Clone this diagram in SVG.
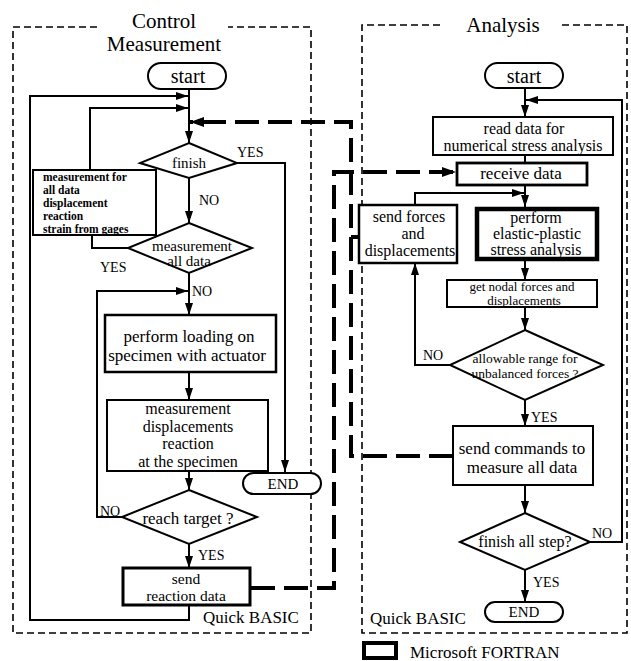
<svg xmlns="http://www.w3.org/2000/svg" width="631" height="661" viewBox="0 0 631 661">
<defs>
<style>
text{font-family:"Liberation Serif","Times New Roman",serif;fill:#000}
.t{font-size:17px;text-anchor:middle}
.t6{font-size:16px;text-anchor:middle}
.m{font-size:15px;text-anchor:middle}
.s{font-size:13.5px;text-anchor:middle}
.lb{font-size:14px}
.ttl{font-size:21px;text-anchor:middle}
.tiny{font-size:11.5px;font-weight:bold}
.box{fill:#fff;stroke:#000;stroke-width:2}
.frame{fill:none;stroke:#000;stroke-width:1.6;stroke-dasharray:7,4}
.ln{fill:none;stroke:#000;stroke-width:2}
.dash{fill:none;stroke:#000;stroke-width:4;stroke-dasharray:24,9}
</style>
<marker id="ah" viewBox="0 0 12 8" refX="12" refY="4" markerWidth="12" markerHeight="8" markerUnits="userSpaceOnUse" orient="auto">
<path d="M0,0 L12,4 L0,8 z" fill="#000"/>
</marker>
<marker id="ahb" viewBox="0 0 14 10" refX="14" refY="5" markerWidth="14" markerHeight="10" markerUnits="userSpaceOnUse" orient="auto">
<path d="M0,0 L14,5 L0,10 z" fill="#000"/>
</marker>
</defs>
<rect width="631" height="661" fill="#fff"/>

<g id="frames">
<path class="frame" d="M97,27 H13 V633 H311 V27 H228"/>
<text class="ttl" x="164" y="28">Control</text>
<text class="ttl" x="164" y="51">Measurement</text>
<text x="203" y="623" style="font-size:17px">Quick BASIC</text>
<path class="frame" d="M440,25 H362 V633 H627 V25 H558"/>
<text class="ttl" x="503" y="32">Analysis</text>
<text x="370" y="624" style="font-size:17px">Quick BASIC</text>
</g>

<g id="connectors">
<path class="ln" d="M189,89 V143" marker-end="url(#ah)"/>
<path class="ln" d="M189,605 V620 H30 V96 H188" marker-end="url(#ah)"/>
<path class="ln" d="M128,248 H92 V235"/>
<path class="ln" d="M90,170 V108 H188" marker-end="url(#ah)"/>
<path class="ln" d="M237,163 H285 V472" marker-end="url(#ah)"/>
<path class="ln" d="M189,178 V223" marker-end="url(#ah)"/>
<path class="ln" d="M189,273 V315" marker-end="url(#ah)"/>
<path class="ln" d="M122,517 H97 V291 H188" marker-end="url(#ah)"/>
<path class="ln" d="M189,372 V400" marker-end="url(#ah)"/>
<path class="ln" d="M189,471 V490" marker-end="url(#ah)"/>
<path class="ln" d="M189,544 V568" marker-end="url(#ah)"/>
<path class="ln" d="M525,88 V117" marker-end="url(#ah)"/>
<path class="ln" d="M590,542 H622 V100 H526" marker-end="url(#ah)"/>
<path class="ln" d="M525,155 V163"/>
<path class="ln" d="M525,185 V207" marker-end="url(#ah)"/>
<path class="ln" d="M415,205 V193 H524" marker-end="url(#ah)"/>
<path class="ln" d="M525,260 V280" marker-end="url(#ah)"/>
<path class="ln" d="M525,307 V330" marker-end="url(#ah)"/>
<path class="ln" d="M450,365 H415 V263" marker-end="url(#ah)"/>
<path class="ln" d="M525,400 V426" marker-end="url(#ah)"/>
<path class="ln" d="M525,485 V513" marker-end="url(#ah)"/>
<path class="ln" d="M525,570 V602" marker-end="url(#ah)"/>
<path class="dash" d="M251,588 H334 V172 H456" marker-end="url(#ahb)"/>
<path class="dash" d="M453,456 H351 V122 H190" marker-end="url(#ahb)"/>
<path d="M351,237 H359" stroke="#000" stroke-width="4" fill="none"/>
</g>

<g id="labels">
<text class="lb" x="237" y="157">YES</text>
<text class="lb" x="199" y="205">NO</text>
<text class="lb" x="100" y="272">YES</text>
<text class="lb" x="192" y="296">NO</text>
<text class="lb" x="100" y="516">NO</text>
<text class="lb" x="198" y="560">YES</text>
<text class="lb" x="423" y="360">NO</text>
<text class="lb" x="531" y="422">YES</text>
<text class="lb" x="592" y="538">NO</text>
<text class="lb" x="533" y="587">YES</text>
</g>

<g id="l_start">
<rect x="148" y="63" width="78" height="26" rx="13" class="box"/>
<text x="188" y="83" style="font-size:20px;text-anchor:middle">start</text>
</g>
<g id="l_finish">
<path class="box" d="M189,143 L237,163 L189,178 L140,163 Z"/>
<text class="m" x="189" y="168">finish</text>
</g>
<g id="l_measbox">
<rect x="33" y="170" width="123" height="65" class="box"/>
<text class="tiny" x="43" y="181">measurement  for</text>
<text class="tiny" x="43" y="194">all  data</text>
<text class="tiny" x="43" y="207">displacement</text>
<text class="tiny" x="43" y="220">reaction</text>
<text class="tiny" x="43" y="233">strain from gages</text>
</g>
<g id="l_measall">
<path class="box" d="M189,223 L252,248 L189,273 L128,248 Z"/>
<text class="m" x="192" y="251">measurement</text>
<text class="m" x="189" y="266">all data</text>
</g>
<g id="l_load">
<rect x="105" y="315" width="171" height="57" class="box" style="stroke-width:2.5"/>
<text class="t" x="189" y="342">perform loading on</text>
<text class="t" x="187" y="361">specimen with actuator</text>
</g>
<g id="l_measdisp">
<rect x="107" y="400" width="161" height="71" class="box"/>
<text class="t6" x="188" y="414">measurement</text>
<text class="t6" x="188" y="432">displacements</text>
<text class="t6" x="188" y="449">reaction</text>
<text class="t6" x="188" y="467">at the specimen</text>
</g>
<g id="l_reach">
<path class="box" d="M189,490 L257,517 L189,544 L122,517 Z"/>
<text class="t" x="188" y="524">reach  target ?</text>
</g>
<g id="l_send">
<rect x="123" y="568" width="127" height="37" class="box" style="stroke-width:3"/>
<text class="m" x="186" y="584" style="font-size:15.5px">send</text>
<text class="m" x="186" y="601" style="font-size:15.5px">reaction data</text>
</g>
<g id="l_end">
<rect x="243" y="473" width="78" height="21" rx="10.5" class="box"/>
<text class="m" x="283" y="489">END</text>
</g>

<g id="r_start">
<rect x="485" y="63" width="78" height="25" rx="12.5" class="box"/>
<text x="524" y="83" style="font-size:20px;text-anchor:middle">start</text>
</g>
<g id="r_read">
<rect x="433" y="117" width="180" height="38" class="box"/>
<text class="t6" x="524" y="134">read data for</text>
<text class="t6" x="523" y="151">numerical stress analysis</text>
</g>
<g id="r_receive">
<rect x="457" y="163" width="130" height="22" class="box" style="stroke-width:2.8"/>
<text class="t" x="521" y="179">receive data</text>
</g>
<g id="r_sendforces">
<rect x="359" y="205" width="98" height="58" class="box" style="stroke-width:2.5"/>
<text class="t6" x="409" y="222">send forces</text>
<text class="t6" x="413" y="239">and</text>
<text class="t6" x="410" y="256">displacements</text>
</g>
<g id="r_perform">
<rect x="477" y="209" width="120" height="50" class="box" style="stroke-width:4.5"/>
<text class="t6" x="536" y="223">perform</text>
<text class="t6" x="537" y="239">elastic-plastic</text>
<text class="t6" x="536" y="255">stress analysis</text>
</g>
<g id="r_getnodal">
<rect x="447" y="280" width="150" height="27" class="box"/>
<text class="s" x="522" y="291" style="font-size:13px">get  nodal forces and</text>
<text class="s" x="524" y="305" style="font-size:13px">displacements</text>
</g>
<g id="r_allow">
<path class="box" d="M525,330 L603,365 L525,400 L450,365 Z"/>
<text class="s" x="525" y="363">allowable range for</text>
<text class="s" x="525" y="378">unbalanced forces ?</text>
</g>
<g id="r_sendcmd">
<rect x="453" y="426" width="140" height="59" class="box"/>
<text class="t" x="522" y="454">send  commands to</text>
<text class="t" x="522" y="473">measure all data</text>
</g>
<g id="r_finishall">
<path class="box" d="M525,513 L590,542 L525,570 L460,542 Z"/>
<text class="m" x="525" y="547" style="font-size:16px">finish all step?</text>
</g>
<g id="r_end">
<rect x="485" y="602" width="78" height="20" rx="10" class="box"/>
<text class="m" x="524" y="617">END</text>
</g>

<g id="legend">
<rect x="364" y="643" width="32" height="15" fill="#fff" stroke="#000" stroke-width="4"/>
<text x="410" y="658" style="font-size:17px">Microsoft FORTRAN</text>
</g>
</svg>
